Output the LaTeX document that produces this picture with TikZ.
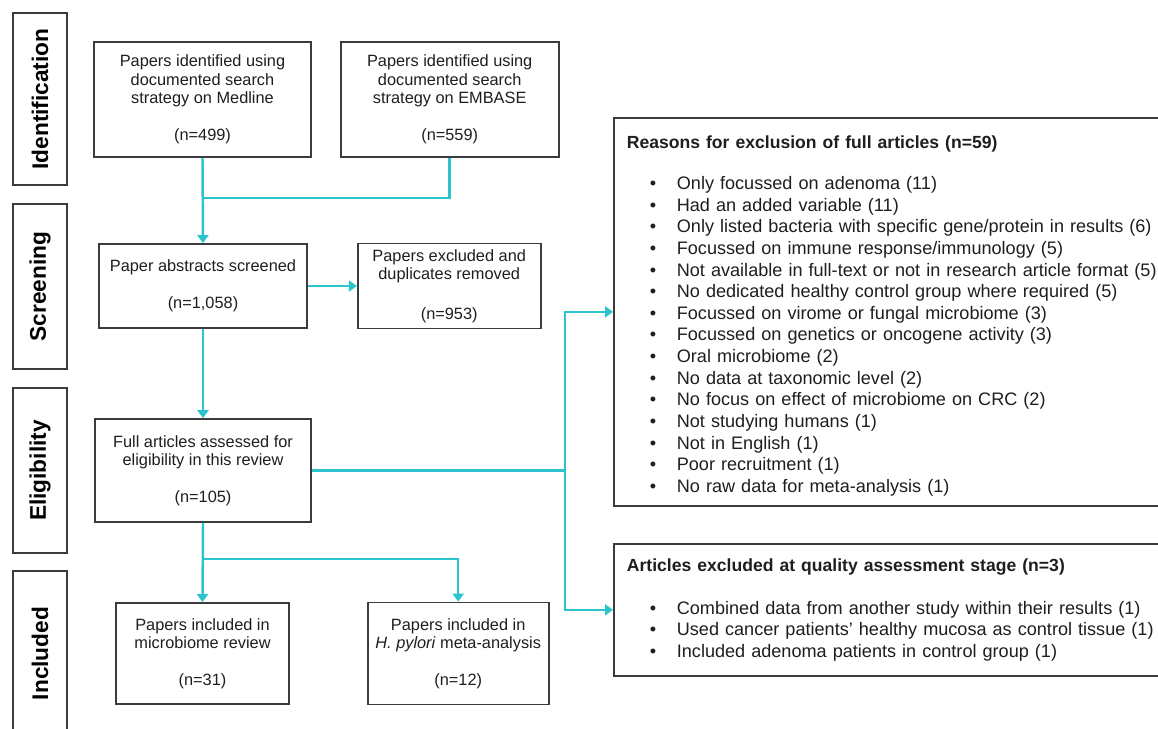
\documentclass[tikz,border=0pt]{standalone}
\usepackage{fontspec}
\setmainfont{Liberation Sans}
\usepackage{tikz}
\usetikzlibrary{positioning,arrows.meta,calc}
\definecolor{flowline}{HTML}{2BC4CC}
\definecolor{boxline}{HTML}{3C3C3C}
\definecolor{txt}{HTML}{1E1E1E}
\tikzset{
  stage/.style={draw=boxline,line width=1pt,rotate=90,minimum height=1.08cm,
                font=\fontsize{12.9}{14}\selectfont\bfseries,text=black},
  pbox/.style={draw=boxline,line width=1pt,align=center,inner sep=2pt,
               font=\fontsize{9.3}{10.5}\selectfont,text=txt},
  lbox/.style={draw=boxline,line width=1pt,align=left,inner xsep=0.26cm,anchor=north west,
               text width=10.62cm,font=\fontsize{10.3}{12.3}\selectfont,text=txt},
  cline/.style={draw=flowline,line width=1.4pt},
  arr/.style={cline,-{Triangle[length=1.6mm,width=2.2mm]}}
}
\newcommand{\li}[1]{\hspace*{0.46cm}\makebox[0.54cm][l]{\textbullet}\mbox{#1}}
\newcommand{\lhead}[1]{{\fontsize{10}{12.3}\selectfont\bfseries #1}}

\begin{document}
\begin{tikzpicture}[x=0.02cm,y=-0.02cm]
  \useasboundingbox (0,0) rectangle (1158,729);
  \clip (0,0) rectangle (1158,729);
  % stage labels
  \node[stage,minimum width=3.44cm] (ident) at (40,99) {Identification};
  \node[stage,minimum width=3.3cm] (screen) at (40,286.5) {Screening};
  \node[stage,minimum width=3.3cm] (elig) at (40,470.5) {Eligibility};
  \node[stage,minimum width=3.3cm] (incl) at (40,653.5) {Included};
  % flow boxes
  \node[pbox,minimum width=4.34cm,minimum height=2.3cm] (medline) at (202.5,99.5)
    {Papers identified using\\documented search\\strategy on Medline\\[10.5pt](n=499)};
  \node[pbox,minimum width=4.36cm,minimum height=2.3cm,right=0.56cm of medline] (embase)
    {Papers identified using\\documented search\\strategy on EMBASE\\[10.5pt](n=559)};
  \node[pbox,minimum width=4.16cm,minimum height=1.68cm] (screened) at (203,286)
    {Paper abstracts screened\\[10.5pt](n=1,058)};
  \node[pbox,minimum width=3.66cm,minimum height=1.7cm,right=0.98cm of screened] (excluded)
    {Papers excluded and\\duplicates removed\\[12pt](n=953)};
  \node[pbox,minimum width=4.32cm,minimum height=2.06cm] (fullart) at (203,470.5)
    {Full articles assessed for\\eligibility in this review\\[10.5pt](n=105)};
  \node[pbox,minimum width=3.46cm,minimum height=2.02cm] (microbiome) at (202.5,653.5)
    {Papers included in\\microbiome review\\[10.5pt](n=31)};
  \node[pbox,minimum width=3.62cm,minimum height=2.04cm,right=1.54cm of microbiome] (hpylori)
    {Papers included in\\\textit{H. pylori} meta-analysis\\[10.5pt](n=12)};
  % exclusion lists
  \node[lbox,minimum height=7.76cm] (reasons) at (613,117)
    {\lhead{\rule{0pt}{12pt}Reasons for exclusion of full articles (n=59)}\\[11pt]
     \li{Only focussed on adenoma (11)}\\
     \li{Had an added variable (11)}\\
     \li{Only listed bacteria with specific gene/protein in results (6)}\\
     \li{Focussed on immune response/immunology (5)}\\
     \li{Not available in full-text or not in research article format (5)}\\
     \li{No dedicated healthy control group where required (5)}\\
     \li{Focussed on virome or fungal microbiome (3)}\\
     \li{Focussed on genetics or oncogene activity (3)}\\
     \li{Oral microbiome (2)}\\
     \li{No data at taxonomic level (2)}\\
     \li{No focus on effect of microbiome on CRC (2)}\\
     \li{Not studying humans (1)}\\
     \li{Not in English (1)}\\
     \li{Poor recruitment (1)}\\
     \li{No raw data for meta-analysis (1)}};
  \node[lbox,minimum height=2.64cm] (quality) at (613,543)
    {\lhead{Articles excluded at quality assessment stage (n=3)}\\[12pt]
     \li{Combined data from another study within their results (1)}\\
     \li{Used cancer patients’ healthy mucosa as control tissue (1)}\\
     \li{Included adenoma patients in control group (1)}};
  % connectors
  \path (medline.south) -- ++(0,40) coordinate (j1);
  \draw[cline] (embase.south) |- (j1);
  \draw[arr] (medline.south) -- (screened.north);
  \draw[arr] (screened.east) -- (excluded.west);
  \draw[arr] (screened.south) -- (fullart.north);
  \path (fullart.east) -- ++(253,0) coordinate (r1);
  \draw[cline] (fullart.east) -- (r1);
  \draw[arr] (r1) |- (reasons.west);
  \draw[arr] (r1) |- (quality.west);
  \path (fullart.south) -- ++(0,36) coordinate (j2);
  \draw[arr] (fullart.south) -- (microbiome.north);
  \draw[arr] (j2) -| (hpylori.north);
\end{tikzpicture}
\end{document}
